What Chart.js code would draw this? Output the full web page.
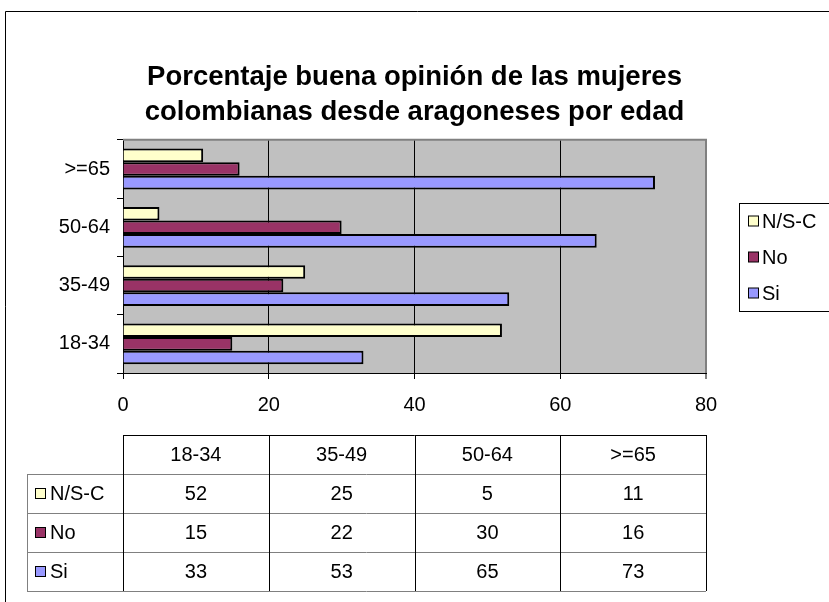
<!DOCTYPE html>
<html>
<head>
<meta charset="utf-8">
<script src="https://cdn.jsdelivr.net/npm/chart.js@4"></script>
<style>
  body { margin: 0; background: #fff; }
  #wrap { width: 829px; height: 602px; position: relative; }
</style>
</head>
<body>
<div id="wrap"><canvas id="myChart"></canvas></div>
<script>
const edades = ['18-34', '35-49', '50-64', '>=65'];
const nsc = [52, 25, 5, 11];
const no = [15, 22, 30, 16];
const si = [33, 53, 65, 73];
const xTicks = [0, 20, 40, 60, 80];

const FONT = '"Liberation Sans", Arial, sans-serif';

// fondo gris del area de trazado + marco exterior
const fondo = {
  id: 'fondo',
  beforeDraw(chart) {
    const { ctx, chartArea: a } = chart;
    ctx.save();
    ctx.fillStyle = '#c0c0c0';
    ctx.fillRect(a.left, a.top, a.right - a.left, a.bottom - a.top);
    ctx.strokeStyle = '#000';
    ctx.lineWidth = 1;
    ctx.beginPath();
    ctx.moveTo(5.5, 602);
    ctx.lineTo(5.5, 11.5);
    ctx.lineTo(829, 11.5);
    ctx.stroke();
    ctx.restore();
  },
  afterDatasetsDraw(chart) {
    const { ctx, chartArea: a } = chart;
    ctx.save();
    ctx.strokeStyle = '#808080';
    ctx.lineWidth = 2;
    ctx.beginPath();
    ctx.moveTo(a.left, a.top);
    ctx.lineTo(a.right, a.top);
    ctx.lineTo(a.right, a.bottom);
    ctx.stroke();
    ctx.restore();
  }
};

// leyenda con marco y tabla de datos
const leyendaTabla = {
  id: 'leyendaTabla',
  afterDraw(chart) {
    const { ctx, chartArea: a } = chart;
    const ds = chart.data.datasets;
    ctx.save();
    ctx.font = '20px ' + FONT;
    ctx.textBaseline = 'middle';

    // leyenda
    ctx.strokeStyle = '#000';
    ctx.lineWidth = 1;
    ctx.strokeRect(739.5, 203.5, 120, 108);
    ds.forEach((d, i) => {
      const y = 221 + i * 36;
      ctx.fillStyle = d.backgroundColor;
      ctx.fillRect(748.5, y - 5, 10, 10);
      ctx.strokeRect(748.5, y - 5, 10, 10);
      ctx.fillStyle = '#000';
      ctx.textAlign = 'left';
      ctx.fillText(d.label, 762, y + 1);
    });

    // tabla
    const top = 435, rowH = 39, left0 = 27;
    const n = chart.data.labels.length;
    const colW = (a.right - a.left) / n;
    const bottom = top + rowH * (ds.length + 1);

    ctx.lineWidth = 1;
    ctx.strokeStyle = '#808080';
    ctx.beginPath();
    for (let r = 1; r <= ds.length + 1; r++) {
      const y = Math.round(top + r * rowH) + 0.5;
      ctx.moveTo(left0, y);
      ctx.lineTo(a.right, y);
    }
    ctx.moveTo(left0 + 0.5, top + rowH);
    ctx.lineTo(left0 + 0.5, bottom);
    ctx.stroke();

    ctx.strokeStyle = '#000';
    ctx.beginPath();
    ctx.moveTo(a.left, top + 0.5);
    ctx.lineTo(a.right, top + 0.5);
    for (let c = 0; c <= n; c++) {
      const x = Math.round(a.left + c * colW) + 0.5;
      ctx.moveTo(x, top);
      ctx.lineTo(x, bottom);
    }
    ctx.stroke();

    ctx.fillStyle = '#000';
    ctx.textAlign = 'center';
    chart.data.labels.forEach((lab, c) => {
      ctx.fillText(lab, a.left + (c + 0.5) * colW, top + rowH / 2 + 1);
    });
    ds.forEach((d, i) => {
      const y = top + (i + 1.5) * rowH + 1;
      ctx.fillStyle = d.backgroundColor;
      ctx.fillRect(35.5, y - 6, 10, 10);
      ctx.strokeStyle = '#000';
      ctx.strokeRect(35.5, y - 6, 10, 10);
      ctx.fillStyle = '#000';
      ctx.textAlign = 'left';
      ctx.fillText(d.label, 50, y);
      ctx.textAlign = 'center';
      d.data.forEach((v, c) => {
        ctx.fillText(String(v), a.left + (c + 0.5) * colW, y);
      });
    });
    ctx.restore();
  }
};

const ctx = document.getElementById('myChart').getContext('2d');
const myChart = new Chart(ctx, {
  type: 'bar',
  data: {
    labels: edades,
    datasets: [
      { label: 'N/S-C', data: nsc, backgroundColor: '#ffffcc' },
      { label: 'No', data: no, backgroundColor: '#993366' },
      { label: 'Si', data: si, backgroundColor: '#9999ff' }
    ]
  },
  options: {
    indexAxis: 'y',
    responsive: true,
    maintainAspectRatio: false,
    animation: false,
    datasets: {
      bar: {
        borderColor: '#000',
        borderWidth: 2,
        categoryPercentage: 0.7,
        barPercentage: 1.0
      }
    },
    layout: { padding: 0 },
    plugins: {
      legend: { display: false },
      tooltip: { enabled: false },
      title: {
        display: true,
        text: ['Porcentaje buena opinión de las mujeres', 'colombianas desde aragoneses por edad'],
        color: '#000',
        font: { family: FONT, size: 27.5, weight: 'bold', lineHeight: 1.27 },
        padding: { top: 60, bottom: 10 }
      }
    },
    scales: {
      x: {
        min: 0,
        max: 80,
        afterBuildTicks(scale) {
          scale.ticks = xTicks.map(v => ({ value: v }));
        },
        afterFit(scale) { scale.height = 229; },
        grid: {
          color: c => (c.tick && c.tick.value === 80 ? '#808080' : '#000'),
          lineWidth: c => (c.tick && c.tick.value === 80 ? 2 : 1),
          tickLength: 6
        },
        border: { color: '#000', width: 1 },
        ticks: { color: '#000', font: { family: FONT, size: 20 }, padding: 14 }
      },
      y: {
        reverse: true,
        afterFit(scale) { scale.width = 123; },
        grid: { drawOnChartArea: false, drawTicks: true, tickLength: 6, color: '#000', offset: true },
        border: { color: '#000', width: 1 },
        ticks: { color: '#000', font: { family: FONT, size: 20 }, padding: 7 }
      },
      // eje vacio a la derecha, reserva el hueco de la leyenda
      margen: {
        type: 'linear',
        position: 'right',
        afterFit(scale) { scale.width = 123; },
        grid: { display: false },
        border: { display: false },
        ticks: { display: false }
      }
    }
  },
  plugins: [fondo, leyendaTabla]
});
</script>
</body>
</html>
